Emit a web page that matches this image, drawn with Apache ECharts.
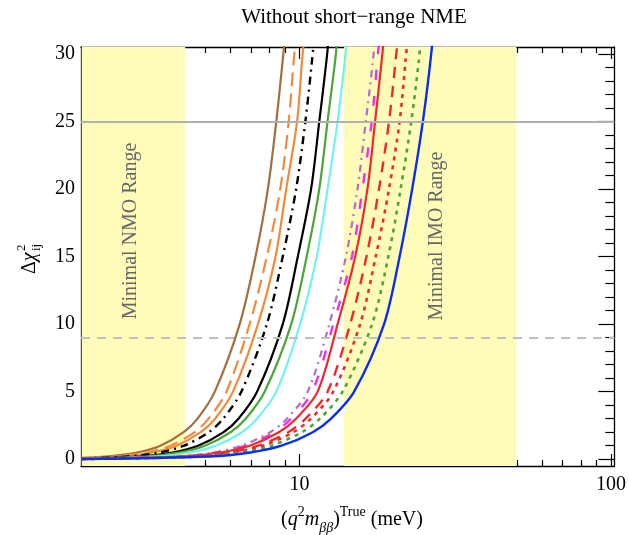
<!DOCTYPE html>
<html>
<head>
<meta charset="utf-8">
<script src="https://cdn.jsdelivr.net/npm/echarts@6/dist/echarts.min.js"></script>
<style>
  html, body { margin: 0; padding: 0; background: #fff; }
  #chart { width: 629px; height: 535px; }
</style>
</head>
<body>
<div id="chart"></div>
<script>
// Δχ² curves: [m (meV), Δχ²] pairs
const brownSolid    = [[2,0.098],[2.39,0.2],[3.01,0.5],[3.58,1],[4.25,2],[4.71,3],[5.35,5],[6.43,10],[7.23,15],[7.92,20],[8.43,25],[8.84,29.56],[9.13,33]];
const orangeDashed  = [[2,0.077],[2.55,0.2],[3.23,0.5],[3.86,1],[4.61,2],[5.11,3],[5.83,5],[6.92,10],[7.86,15],[8.68,20],[9.24,25],[9.59,29.56],[9.91,33]];
const orangeSolid   = [[2,0.068],[2.65,0.2],[3.37,0.5],[4.03,1],[4.82,2],[5.36,3],[6.12,5],[7.36,10],[8.38,15],[9.07,20],[9.83,25],[10.20,29.56],[10.54,33]];
const blackDashDot  = [[2,0.056],[2.79,0.2],[3.55,0.5],[4.26,1],[5.12,2],[5.69,3],[6.51,5],[7.86,10],[8.84,15],[9.76,20],[10.45,25],[10.98,29.56],[11.34,33]];
const blackSolid    = [[2,0.041],[3.06,0.2],[3.92,0.5],[4.73,1],[5.71,2],[6.37,3],[7.31,5],[8.84,10],[9.88,15],[10.90,20],[11.58,25],[12.22,29.56],[12.62,33]];
const greenSolid    = [[2,0.036],[3.20,0.2],[4.11,0.5],[4.97,1],[6.01,2],[6.72,3],[7.73,5],[9.41,10],[10.55,15],[11.58,20],[12.31,25],[13.03,29.56],[13.46,33]];
const cyanSolid     = [[2,0.028],[3.45,0.2],[4.45,0.5],[5.39,1],[6.54,2],[7.31,3],[8.43,5],[10.05,10],[11.36,15],[12.31,20],[13.26,25],[14.00,29.56],[14.46,33]];
const purpleDashDot = [[2,0.020],[4.01,0.2],[5.29,0.5],[6.53,1],[8.05,2],[9.11,3],[10.63,5],[12.47,10],[14.10,15],[15.36,20],[16.33,25],[17.23,29.56],[17.80,33]];
const magentaDashed = [[2,0.020],[4.09,0.2],[5.42,0.5],[6.70,1],[8.30,2],[9.40,3],[11.00,5],[12.84,10],[14.74,15],[15.93,20],[17.07,25],[17.79,29.56],[18.38,33]];
const redSolid      = [[2,0.019],[4.18,0.2],[5.57,0.5],[6.92,1],[8.59,2],[9.75,3],[11.44,5],[13.26,10],[15.10,15],[16.53,20],[17.49,25],[18.38,29.56],[18.99,33]];
const redDashed     = [[2,0.016],[4.43,0.2],[5.93,0.5],[7.38,1],[9.20,2],[10.47,3],[12.31,5],[14.55,10],[16.41,15],[18.01,20],[19.39,25],[20.37,29.56],[21.04,33]];
const redDotted     = [[2,0.016],[4.55,0.2],[6.11,0.5],[7.64,1],[9.55,2],[10.89,3],[12.84,5],[15.66,10],[17.58,15],[19.39,20],[20.97,25],[21.92,29.56],[22.64,33]];
const greenDotted   = [[2,0.014],[4.78,0.2],[6.46,0.5],[8.11,1],[10.18,2],[11.63,3],[13.75,5],[17.11,10],[19.29,15],[21.13,20],[22.85,25],[24.18,29.56],[24.98,33]];
const blueSolid     = [[2,0.012],[5.12,0.2],[6.95,0.5],[8.76,1],[11.04,2],[12.63,3],[14.98,5],[18.69,10],[20.97,15],[23.01,20],[24.90,25],[26.36,29.56],[27.23,33]];

// shaded ranges (meV) and reference Δχ² levels
const nmoRange = [2, 4.3];
const imoRange = [13.9, 49.7];
const refSolidLevel = 25;
const refDashedLevel = 9;

// axis ticks
const xMajorTicks = [10, 100];
const xMinorTicks = [3, 4, 5, 6, 7, 8, 9, 20, 30, 40, 50, 60, 70, 80, 90];
const yMajorTicks = [0, 5, 10, 15, 20, 25, 30];
const yMinorTicks = [1, 2, 3, 4, 6, 7, 8, 9, 11, 12, 13, 14, 16, 17, 18, 19, 21, 22, 23, 24, 26, 27, 28, 29];

const titleText = 'Without short\u2212range NME';
const nmoLabel = 'Minimal NMO Range';
const imoLabel = 'Minimal IMO Range';

const SERIF = '"Liberation Serif", "DejaVu Serif", serif';
const X_MIN = 1.99, X_MAX = 102.5, Y_MIN = -0.5, Y_MAX = 30.5;

const curveStyles = [
  { data: brownSolid,    color: '#a0703e', width: 2.2, type: 'solid' },
  { data: orangeDashed,  color: '#f08a3c', width: 2.2, type: [14, 7] },
  { data: orangeSolid,   color: '#f08a3c', width: 2.2, type: 'solid' },
  { data: blackDashDot,  color: '#000000', width: 2.4, type: [8, 5, 2, 5] },
  { data: blackSolid,    color: '#000000', width: 2.2, type: 'solid' },
  { data: greenSolid,    color: '#4aa636', width: 2.2, type: 'solid' },
  { data: cyanSolid,     color: '#70f2f2', width: 2.2, type: 'solid' },
  { data: purpleDashDot, color: '#b070c8', width: 2.2, type: [7, 5, 2, 5] },
  { data: magentaDashed, color: '#ee30ee', width: 2.4, type: [10, 16] },
  { data: redSolid,      color: '#ee2a2a', width: 2.2, type: 'solid' },
  { data: redDashed,     color: '#ee2a2a', width: 2.4, type: [11, 8] },
  { data: redDotted,     color: '#ee2a2a', width: 2.6, type: [4, 5] },
  { data: greenDotted,   color: '#4aa636', width: 2.6, type: [4, 5] },
  { data: blueSolid,     color: '#0a2ef0', width: 2.4, type: 'solid' }
];

const chart = echarts.init(document.getElementById('chart'), null, { renderer: 'canvas' });

function xAxisDef(position, ticks, len, showLabel, showLine) {
  return {
    type: 'log', logBase: 10, min: X_MIN, max: X_MAX, position: position,
    axisLine: { show: showLine, onZero: false, lineStyle: { color: '#000', width: 1.3 } },
    axisTick: { show: true, inside: true, length: len, customValues: ticks, lineStyle: { color: '#000', width: 1.2 } },
    axisLabel: { show: showLabel, customValues: ticks, margin: 9, color: '#000', fontFamily: SERIF, fontSize: 20 },
    splitLine: { show: false }, minorTick: { show: false }
  };
}
function yAxisDef(position, ticks, len, showLabel, showLine) {
  return {
    type: 'value', min: Y_MIN, max: Y_MAX, position: position,
    axisLine: { show: showLine, onZero: false, lineStyle: { color: '#000', width: 1.3 } },
    axisTick: { show: true, inside: true, length: len, customValues: ticks, lineStyle: { color: '#000', width: 1.2 } },
    axisLabel: { show: showLabel, customValues: ticks, margin: 6, color: '#000', fontFamily: SERIF, fontSize: 20 },
    splitLine: { show: false }, minorTick: { show: false }
  };
}

const series = [{
  type: 'line', data: [], xAxisIndex: 0, yAxisIndex: 0, z: 1, silent: true,
  markArea: {
    silent: true,
    itemStyle: { color: '#fffbb8' },
    data: [
      [{ xAxis: nmoRange[0] }, { xAxis: nmoRange[1] }],
      [{ xAxis: imoRange[0] }, { xAxis: imoRange[1] }]
    ]
  },
  markLine: {
    silent: true, symbol: 'none', label: { show: false },
    data: [
      { yAxis: refSolidLevel, lineStyle: { color: '#b0b0b0', width: 2, type: 'solid' } },
      { yAxis: refDashedLevel, lineStyle: { color: '#c0c0c0', width: 2, type: [9, 7] } }
    ]
  }
}];

curveStyles.forEach(function (c) {
  series.push({
    type: 'line', data: c.data, xAxisIndex: 0, yAxisIndex: 0, z: 3,
    showSymbol: false, smooth: 0.3, clip: true, silent: true,
    lineStyle: { color: c.color, width: c.width, type: c.type, cap: 'butt' }
  });
});

chart.setOption({
  animation: false,
  backgroundColor: '#ffffff',
  grid: { left: 81, right: 12, top: 47, bottom: 69, containLabel: false },
  xAxis: [
    xAxisDef('bottom', xMajorTicks, 12, true, true),
    xAxisDef('bottom', xMinorTicks, 6, false, false),
    xAxisDef('top', xMajorTicks, 12, false, true),
    xAxisDef('top', xMinorTicks, 6, false, false)
  ],
  yAxis: [
    yAxisDef('left', yMajorTicks, 16, true, true),
    yAxisDef('left', yMinorTicks, 9, false, false),
    yAxisDef('right', yMajorTicks, 16, false, true),
    yAxisDef('right', yMinorTicks, 9, false, false)
  ],
  series: series,
  graphic: [
    {
      type: 'text', x: 354, y: 17, z: 10,
      style: { text: titleText, font: '21px ' + SERIF, fill: '#000', align: 'center', verticalAlign: 'middle' }
    },
    {
      type: 'text', x: 131, y: 231, rotation: Math.PI / 2, z: 10,
      style: { text: nmoLabel, font: '20px ' + SERIF, fill: '#666', align: 'center', verticalAlign: 'middle' }
    },
    {
      type: 'text', x: 437, y: 236, rotation: Math.PI / 2, z: 10,
      style: { text: imoLabel, font: '20px ' + SERIF, fill: '#666', align: 'center', verticalAlign: 'middle' }
    },
    {
      type: 'text', x: 352, y: 520, z: 10,
      style: {
        text: '({i|q}{sup|2}{i|m}{sub|\u03b2\u03b2}){sup|True} (meV)',
        font: '20px ' + SERIF, fill: '#000', align: 'center', verticalAlign: 'middle',
        rich: {
          i: { fontFamily: SERIF, fontSize: 20, fontStyle: 'italic', lineHeight: 30 },
          sup: { fontFamily: SERIF, fontSize: 14, verticalAlign: 'top', lineHeight: 30 },
          sub: { fontFamily: SERIF, fontSize: 14, fontStyle: 'italic', verticalAlign: 'bottom', lineHeight: 30 }
        }
      }
    },
    {
      type: 'group', x: 30, y: 256, rotation: Math.PI / 2, z: 10,
      children: [
        {
          type: 'text', x: -18, y: 0,
          style: {
            text: '\u0394{i|\u03c7}', font: '20px ' + SERIF, fill: '#000', align: 'left', verticalAlign: 'middle',
            rich: { i: { fontFamily: SERIF, fontSize: 20, fontStyle: 'italic' } }
          }
        },
        { type: 'text', x: 5, y: -8, style: { text: '2', font: '13px ' + SERIF, fill: '#000', align: 'left', verticalAlign: 'middle' } },
        { type: 'text', x: 5, y: 7, style: { text: 'ij', font: '13px ' + SERIF, fill: '#000', align: 'left', verticalAlign: 'middle' } }
      ]
    }
  ]
});
</script>
</body>
</html>
